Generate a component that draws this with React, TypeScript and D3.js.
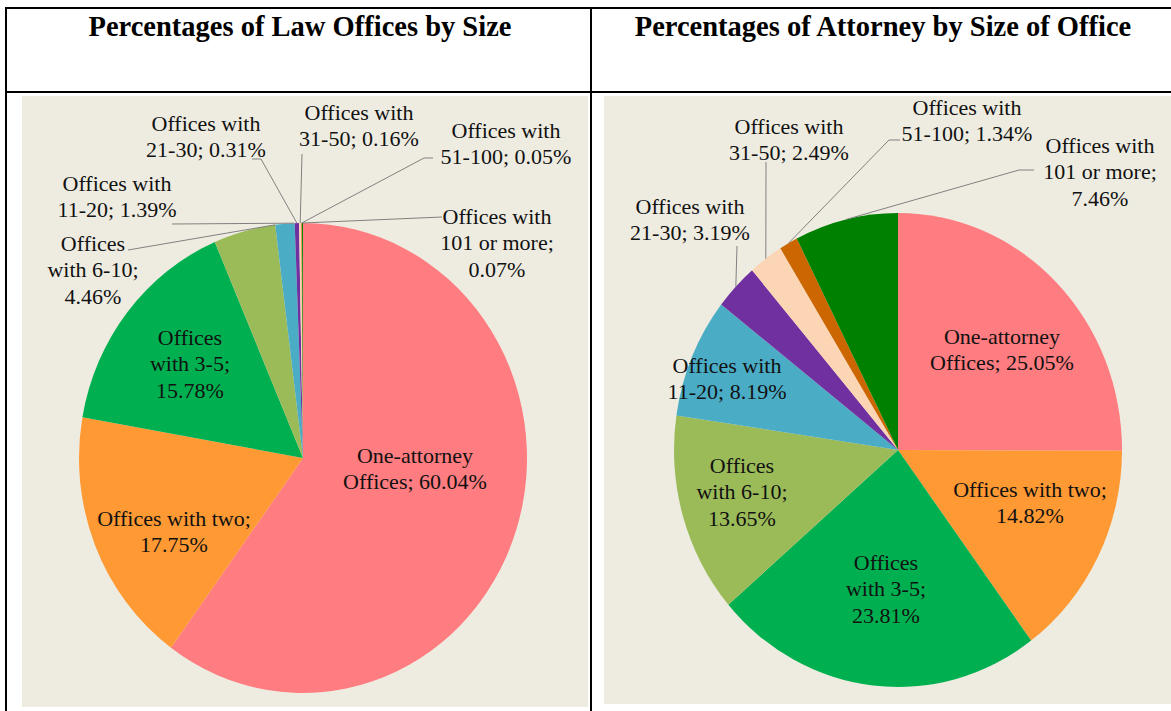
import React from "react";
import * as d3 from "d3";

// ---------- data ----------
const categories = [
  "One-attorney Offices",
  "Offices with two",
  "Offices with 3-5",
  "Offices with 6-10",
  "Offices with 11-20",
  "Offices with 21-30",
  "Offices with 31-50",
  "Offices with 51-100",
  "Offices with 101 or more",
];
const officeShares = [60.04, 17.75, 15.78, 4.46, 1.39, 0.31, 0.16, 0.05, 0.07];
const attorneyShares = [25.05, 14.82, 23.81, 13.65, 8.19, 3.19, 2.49, 1.34, 7.46];
const sliceColors = [
  "#FF7C80",
  "#FF9933",
  "#00B050",
  "#9BBB59",
  "#4BACC6",
  "#7030A0",
  "#FCD5B5",
  "#CC6600",
  "#008000",
];
const chartTitles = [
  "Percentages of Law Offices by Size",
  "Percentages of Attorney by Size of Office",
];
const officeLabelLines = [
  ["One-attorney", "Offices; {v}%"],
  ["Offices with two;", "{v}%"],
  ["Offices", "with 3-5;", "{v}%"],
  ["Offices", "with 6-10;", "{v}%"],
  ["Offices with", "11-20; {v}%"],
  ["Offices with", "21-30; {v}%"],
  ["Offices with", "31-50; {v}%"],
  ["Offices with", "51-100; {v}%"],
  ["Offices with", "101 or more;", "{v}%"],
];
const attorneyLabelLines = [
  ["One-attorney", "Offices; {v}%"],
  ["Offices with two;", "{v}%"],
  ["Offices", "with 3-5;", "{v}%"],
  ["Offices", "with 6-10;", "{v}%"],
  ["Offices with", "11-20; {v}%"],
  ["Offices with", "21-30; {v}%"],
  ["Offices with", "31-50; {v}%"],
  ["Offices with", "51-100; {v}%"],
  ["Offices with", "101 or more;", "{v}%"],
];

// ---------- layout ----------
const W = 1171;
const H = 711;
const LINE_GAP = 26.5;

type Leader = { idx: number; pts: [number, number][]; frac: number };
type Panel = {
  values: number[];
  lines: string[][];
  title: string;
  titleX: number;
  cx: number;
  cy: number;
  rx: number;
  ry: number;
  bg: [number, number, number, number];
  labelPos: [number, number][];
  leaders: Leader[];
};

const panels: Panel[] = [
  {
    values: officeShares,
    lines: officeLabelLines,
    title: chartTitles[0],
    titleX: 300,
    cx: 303,
    cy: 458,
    rx: 224,
    ry: 235,
    bg: [22, 96, 566, 611],
    labelPos: [
      [415, 455],
      [174, 518],
      [190, 337],
      [93, 243],
      [117, 183],
      [206, 123],
      [359, 112],
      [506, 130],
      [497, 216],
    ],
    leaders: [
      { idx: 3, pts: [[128, 250]], frac: 1 },
      { idx: 4, pts: [[172, 224]], frac: 1 },
      { idx: 5, pts: [[252, 159], [261, 159]], frac: 0.5 },
      { idx: 6, pts: [[302, 154]], frac: 0.5 },
      { idx: 7, pts: [[433, 158], [424, 158]], frac: 0.5 },
      { idx: 8, pts: [[442, 217]], frac: 0.5 },
    ],
  },
  {
    values: attorneyShares,
    lines: attorneyLabelLines,
    title: chartTitles[1],
    titleX: 883,
    cx: 898,
    cy: 450,
    rx: 224,
    ry: 237,
    bg: [604, 96, 567, 608],
    labelPos: [
      [1002, 336],
      [1030, 489],
      [886, 562],
      [742, 465],
      [727, 365],
      [690, 206],
      [789, 126],
      [967, 107],
      [1100, 145],
    ],
    leaders: [
      { idx: 5, pts: [[737, 246]], frac: 0.5 },
      { idx: 6, pts: [[766, 162]], frac: 0.5 },
      { idx: 7, pts: [[900, 140], [889, 140]], frac: 0.5 },
      { idx: 8, pts: [[1034, 170], [1019, 170]], frac: 0.5 },
    ],
  },
];

const pieGen = d3
  .pie<number>()
  .sort(null)
  .value((d) => d)
  .startAngle(0)
  .endAngle(2 * Math.PI);

function PiePanel({ p }: { p: Panel }) {
  const arcs = pieGen(p.values);
  const arcGen = d3.arc<d3.PieArcDatum<number>>().innerRadius(0).outerRadius(p.ry);
  const edgePoint = (a: number): [number, number] => [
    p.cx + p.rx * Math.sin(a),
    p.cy - p.ry * Math.cos(a),
  ];
  const lineGen = d3.line();
  return (
    <g>
      <rect x={p.bg[0]} y={p.bg[1]} width={p.bg[2]} height={p.bg[3]} fill="#EEECE1" />
      <g transform={`translate(${p.cx},${p.cy}) scale(${p.rx / p.ry},1)`}>
        {arcs.map((a, i) => (
          <path key={i} d={arcGen(a) || ""} fill={sliceColors[i]} />
        ))}
      </g>
      {p.leaders.map((l) => {
        const a = arcs[l.idx];
        const ang = a.startAngle + (a.endAngle - a.startAngle) * l.frac;
        const pts = [...l.pts, edgePoint(ang)] as [number, number][];
        return (
          <path
            key={l.idx}
            d={lineGen(pts) || ""}
            fill="none"
            stroke="#808080"
            strokeWidth={1}
          />
        );
      })}
      {p.lines.map((lines, i) => {
        const [x, y] = p.labelPos[i];
        const v = p.values[i].toFixed(2);
        return (
          <text
            key={i}
            fontFamily="'Liberation Serif', 'Times New Roman', serif"
            fontSize={22}
            fill="#111"
            textAnchor="middle"
          >
            {lines.map((ln, j) => (
              <tspan key={j} x={x} y={y + j * LINE_GAP} dominantBaseline="central">
                {ln.replace("{v}", v)}
              </tspan>
            ))}
          </text>
        );
      })}
      <text
        x={p.titleX}
        y={36}
        textAnchor="middle"
        fontFamily="'Liberation Serif', 'Times New Roman', serif"
        fontWeight="bold"
        fontSize={28.5}
        fill="#000"
      >
        {p.title}
      </text>
    </g>
  );
}

export default function App() {
  return (
    <svg
      width={W}
      height={H}
      style={{ position: "absolute", left: 0, top: 0, background: "#fff" }}
    >
      <rect x={0} y={0} width={W} height={H} fill="#fff" />
      {panels.map((p, i) => (
        <PiePanel key={i} p={p} />
      ))}
      <g stroke="#000" strokeWidth={2}>
        <line x1={5} y1={8} x2={W} y2={8} />
        <line x1={5} y1={92} x2={W} y2={92} />
        <line x1={6} y1={7} x2={6} y2={H} />
        <line x1={591} y1={7} x2={591} y2={H} />
      </g>
    </svg>
  );
}
